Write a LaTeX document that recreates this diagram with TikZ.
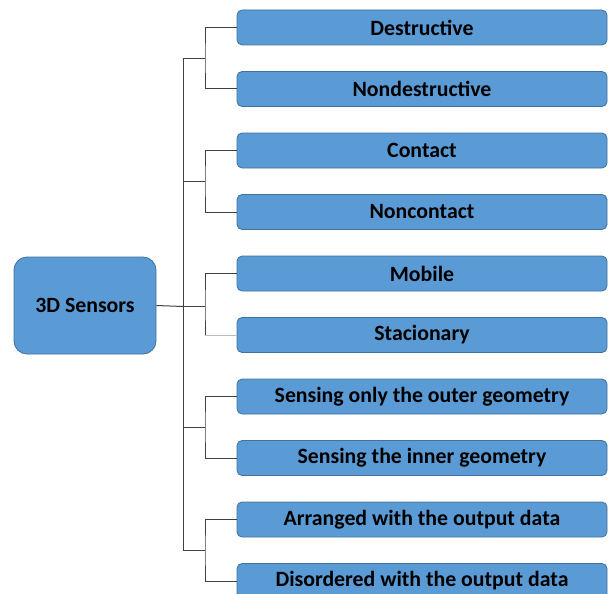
\documentclass[tikz,border=0pt]{standalone}
\usepackage{fontspec}
\setmainfont{Carlito}
\definecolor{boxfill}{HTML}{5B9BD5}
\definecolor{boxborder}{HTML}{41719C}
\definecolor{linegray}{HTML}{404040}
\begin{document}
\begin{tikzpicture}[x=1pt,y=-1pt,
  leaf/.style={draw=boxborder, line width=0.8pt, fill=boxfill, rounded corners=5pt,
    minimum width=370pt, minimum height=35pt, inner sep=0pt,
    font=\bfseries\fontsize{21.8}{24}\selectfont, text=black},
  rootbox/.style={draw=boxborder, line width=0.8pt, fill=boxfill, rounded corners=13pt,
    minimum width=142pt, minimum height=97pt, inner sep=0pt,
    font=\bfseries\fontsize{21.8}{24}\selectfont, text=black},
  link/.style={draw=linegray, line width=1pt},
  faint/.style={draw=linegray!35, line width=1pt}]
\useasboundingbox (0,0) rectangle (608,594);
\clip (0,0) rectangle (608,594);
\node[rootbox] (root) at (85,305.5) {3D Sensors};
\node[leaf] (a1) at (422,27.5) {Destructive};
\node[leaf] (a2) at (422,89) {Nondestructive};
\node[leaf] (b1) at (422,150.5) {Contact};
\node[leaf] (b2) at (422,212) {Noncontact};
\node[leaf] (c1) at (422,273.5) {Mobile};
\node[leaf] (c2) at (422,335) {Stacionary};
\node[leaf] (d1) at (422,396.5) {Sensing only the outer geometry};
\node[leaf] (d2) at (422,458) {Sensing the inner geometry};
\node[leaf] (e1) at (422,519.5) {Arranged with the output data};
\node[leaf] (e2) at (422,581) {Disordered with the output data};
\coordinate (j1) at (183,58.25);
\coordinate (j2) at (183,181.25);
\coordinate (j3) at (183,306.5);
\coordinate (j4) at (183,427.25);
\coordinate (j5) at (183,550.25);
\coordinate (s1) at (205,58.25);
\coordinate (s2) at (205,181.25);
\coordinate (s3) at (205,306.5);
\coordinate (s4) at (205,427.25);
\coordinate (s5) at (205,550.25);
\draw[link] (j1) -- (j5);
\draw[link] (root.east) -- (j3);
\draw[link] (j1) -- (s1);
\draw[link] (j2) -- (s2);
\draw[link] (j3) -- (s3);
\draw[link] (j4) -- (s4);
\draw[link] (j5) -- (s5);
\draw[link] (a1.west) -| (s1) |- (a2.west);
\draw[link] (b1.west) -| (s2) |- (b2.west);
\draw[link] (c1.west) -| (s3) -- (s3 |- c2.west);
\draw[faint] (s3 |- c2.west) -- (c2.west);
\draw[link] (d1.west) -| (s4) |- (d2.west);
\draw[link] (e1.west) -| (s5) |- (e2.west);
\end{tikzpicture}
\end{document}
